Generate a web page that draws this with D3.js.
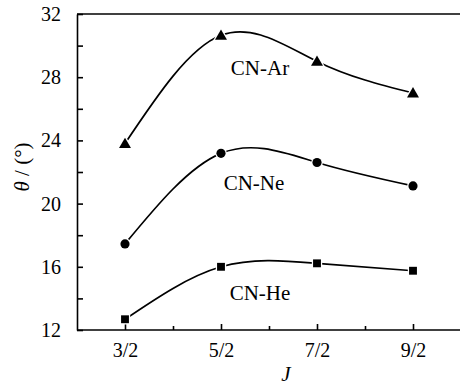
<!DOCTYPE html>
<html><head><meta charset="utf-8">
<script src="https://cdn.jsdelivr.net/npm/d3@7"></script>
<style>body{margin:0;background:#fff}svg{display:block}</style>
</head><body>
<svg id="c" width="460" height="385"></svg>
<script>
const jValues = [1.5, 2.5, 3.5, 4.5];
const jLabels = ["3/2", "5/2", "7/2", "9/2"];
const arValues = [23.8, 30.65, 29.0, 27.0];
const neValues = [17.45, 23.18, 22.6, 21.12];
const heValues = [12.68, 16.0, 16.22, 15.75];
const seriesNames = ["CN-Ar", "CN-Ne", "CN-He"];
const yTicks = [12, 16, 20, 24, 28, 32];
const yMinor = [14, 18, 22, 26, 30];
const xMinor = [2, 3, 4];

const svg = d3.select("#c");
const font = "Liberation Serif";
const x = d3.scaleLinear().domain([1, 5]).range([77, 461]);
const y = d3.scaleLinear().domain([12, 32]).range([330, 14]);

// top frame line
svg.append("line").attr("x1", 77).attr("x2", 460).attr("y1", 14).attr("y2", 14).attr("stroke", "#000").attr("stroke-width", 1.6);
const gx = svg.append("g").attr("transform", "translate(0,330)");
gx.call(d3.axisBottom(x).tickValues(jValues).tickFormat((d, i) => jLabels[i]).tickSizeInner(-6).tickSizeOuter(0).tickPadding(13));
const gxm = svg.append("g").attr("transform", "translate(0,330)");
gxm.call(d3.axisBottom(x).tickValues(xMinor).tickFormat("").tickSizeInner(-4).tickSizeOuter(0));
gxm.select(".domain").remove();
const gy = svg.append("g").attr("transform", "translate(77,0)");
gy.call(d3.axisLeft(y).tickValues(yTicks).tickFormat(d3.format("d")).tickSizeInner(-6).tickSizeOuter(0).tickPadding(16));
const gym = svg.append("g").attr("transform", "translate(77,0)");
gym.call(d3.axisLeft(y).tickValues(yMinor).tickFormat("").tickSizeInner(-6).tickSizeOuter(0));
gym.select(".domain").remove();
svg.selectAll("g").attr("font-family", font);
svg.selectAll(".domain").attr("stroke-width", 1.6).attr("stroke", "#000");
svg.selectAll(".tick line").attr("stroke-width", 1.6).attr("stroke", "#000");
svg.selectAll(".tick text").attr("font-family", font).attr("font-size", 20).attr("fill", "#000");
gx.select(".domain").attr("d", "M77,0H460");

// curves
const line = d3.line().x((d, i) => x(jValues[i])).y(d => y(d)).curve(d3.curveNatural);
const series = [
  {name: seriesNames[0], vals: arValues, sym: d3.symbolTriangle, size: 62, lx: 260, ly: 75},
  {name: seriesNames[1], vals: neValues, sym: d3.symbolCircle, size: 66, lx: 254, ly: 190},
  {name: seriesNames[2], vals: heValues, sym: d3.symbolSquare, size: 62, lx: 260, ly: 300}
];
series.forEach(s => {
  svg.append("path").attr("d", line(s.vals)).attr("fill", "none").attr("stroke", "#000").attr("stroke-width", 1.7);
  svg.selectAll(null).data(s.vals).enter().append("path")
    .attr("d", d3.symbol().type(s.sym).size(s.size))
    .attr("transform", (d, i) => `translate(${x(jValues[i])},${y(d) + (s.sym === d3.symbolTriangle ? 1 : 0)})`)
    .attr("fill", "#000").attr("stroke", "#fff").attr("stroke-width", 2.5).attr("paint-order", "stroke");
  svg.append("text").attr("x", s.lx).attr("y", s.ly).attr("text-anchor", "middle")
    .attr("font-family", font).attr("font-size", 21).text(s.name);
});

// axis titles
svg.append("text").attr("x", 286).attr("y", 381).attr("text-anchor", "middle")
  .attr("font-family", font).attr("font-size", 21).attr("font-style", "italic").text("J");
const yl = svg.append("text").attr("transform", "translate(29,167) rotate(-90)").attr("text-anchor", "middle")
  .attr("font-family", font).attr("font-size", 21);
yl.append("tspan").attr("font-style", "italic").text("θ");
yl.append("tspan").text(" / (°)");
</script>
</body></html>
